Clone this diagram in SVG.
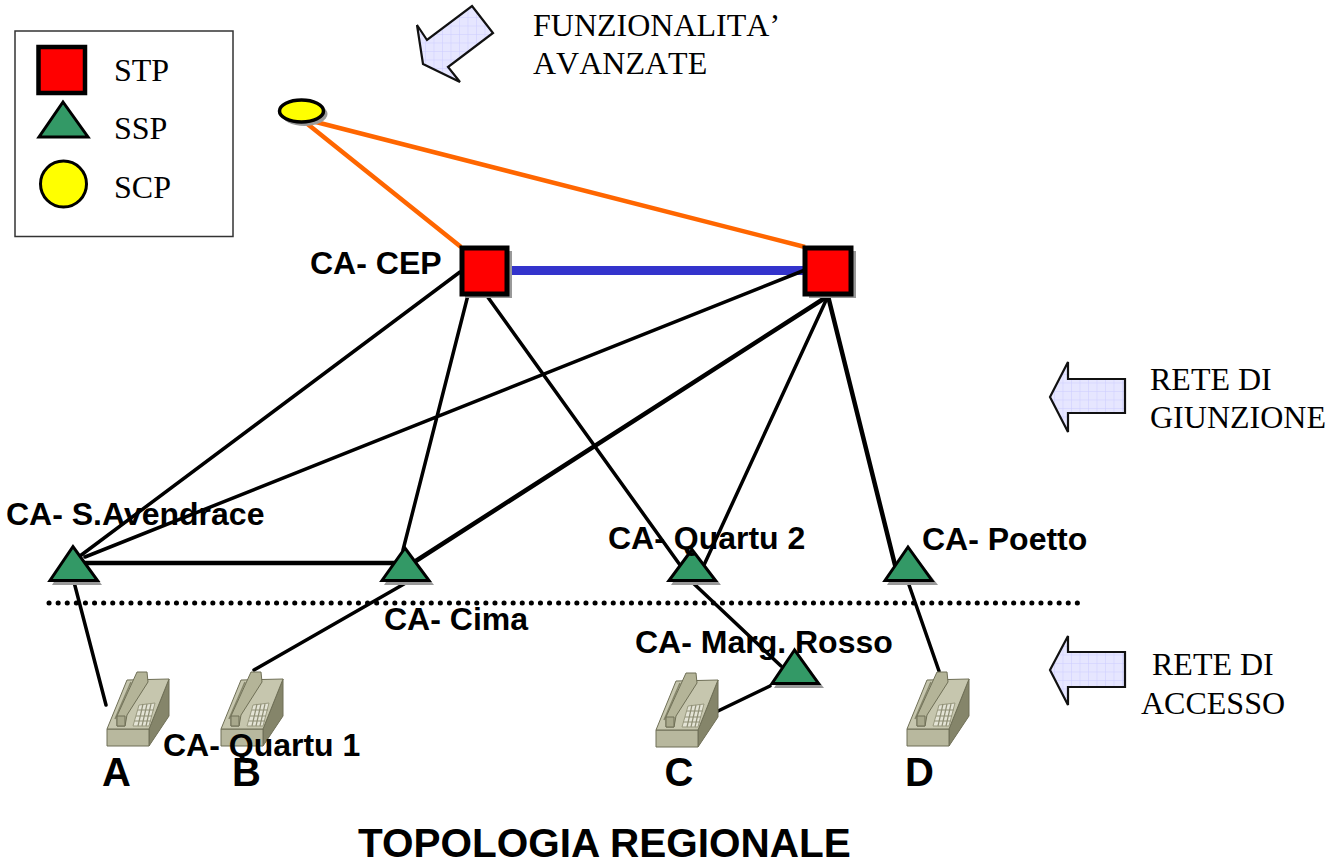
<svg xmlns="http://www.w3.org/2000/svg" width="1331" height="862" viewBox="0 0 1331 862">
<style>
.s{font-family:"Liberation Serif",serif;font-size:32px;font-kerning:none;fill:#000}
.l{font-family:"Liberation Sans",Arial,sans-serif;font-size:32px;font-weight:bold;fill:#000}
.L{font-family:"Liberation Sans",Arial,sans-serif;font-size:40px;font-weight:bold;fill:#000}
.c{fill:none;stroke:#000;stroke-width:3.5;stroke-linecap:round}
.h{fill:none;stroke:#000;stroke-width:4.500;stroke-linecap:round}
.t{fill:#339966;stroke:#000;stroke-width:3;stroke-linejoin:miter}
.ts{fill:#999;stroke:none}
.r{fill:#f00;stroke:#000;stroke-width:5}
.a{fill:url(#g);stroke:#111;stroke-width:2.2;stroke-linejoin:miter}
</style>
<defs>
<pattern id="g" width="8.5" height="8.5" patternUnits="userSpaceOnUse">
<rect width="8.5" height="8.5" fill="#e6e6ff"/>
<path d="M0 0H8.500M0 0V8.500" stroke="#ccccff" stroke-width="1"/>
</pattern>
<symbol id="phone" width="64" height="76" viewBox="0 0 64 76" overflow="visible">
<path d="M42 58L62 8V45L42 75Z" fill="#85856a" stroke="#6f6f56" stroke-width="1"/>
<path d="M0 58H42V75H0Z" fill="#b8b89e" stroke="#6f6f56" stroke-width="1"/>
<path d="M0 58L20 9L62 8L42 58Z" fill="#c6c6ae" stroke="#6f6f56" stroke-width="1"/>
<path d="M8 48L24 11" fill="none" stroke="#85856a" stroke-width="1.500"/>
<path d="M10 45L30 1H40L41 11L20 44L18 55H10Z" fill="#b4b498" stroke="#6f6f56" stroke-width="1"/>
<path d="M10 45H18V55H10Z" fill="#a8a88c" stroke="#6f6f56" stroke-width="1"/>
<path d="M26 55L32 34L48 32L42 55Z" fill="#e4e4d6" stroke="#9a9a80" stroke-width="1"/>
<path d="M31 39H47M29 45H45M27.500 50H44M36 33L31 55M40 33L35 55M44 33L39 55" stroke="#8f8f76" stroke-width="1.200" fill="none"/>
</symbol>
</defs>
<rect width="1331" height="862" fill="#fff"/>

<g id="legend">
<rect x="15" y="31" width="218" height="205.500" fill="#fff" stroke="#333" stroke-width="1.500"/>
<rect x="38.500" y="47" width="46.500" height="46" class="r" style="stroke-width:4.500"/>
<path d="M63 102L39 137H88Z" class="t"/>
<circle cx="63.500" cy="184" r="23" fill="#ff0" stroke="#000" stroke-width="3"/>
<text class="s" x="114" y="81">STP</text>
<text class="s" x="114" y="139">SSP</text>
<text class="s" x="114" y="198">SCP</text>
</g>

<g id="connectors">
<path d="M305 122L461 247M312 121L805 247" fill="none" stroke="#ff6600" stroke-width="4.500"/>
<path d="M508 270.500H805" fill="none" stroke="#3333cc" stroke-width="9"/>
<path class="c" d="M460 272L80 556M468 295L403 550M487 296L680 565M805 270L85 557M828 296L704 565"/>
<path class="h" d="M828 296L408 566M828 296L895 565M80 563H406"/>
<path class="c" d="M74 582L106 705M404 584L254 670M692 582L781 666M908 582L939 671M770 686L718 711"/>
<path d="M49 603H1079" fill="none" stroke="#000" stroke-width="5" stroke-linecap="round" stroke-dasharray="0.100 9"/>
</g>

<g id="scp"><ellipse cx="304.500" cy="114" rx="23" ry="12" fill="#999"/><ellipse cx="301.500" cy="111" rx="22" ry="11" fill="#ff0" stroke="#000" stroke-width="3.500"/></g>
<g id="stp-cep"><rect x="465" y="251" width="47" height="47" fill="#999"/><rect x="462" y="248" width="45" height="46" class="r"/></g>
<g id="stp-2"><rect x="809" y="251" width="47" height="47" fill="#999"/><rect x="805" y="248" width="46" height="46" class="r"/></g>

<g id="ssp-avendrace"><path d="M75 549L52 585H102Z" class="ts"/><path d="M73 546.500L50 580.500H97.500Z" class="t"/></g>
<g id="ssp-cima"><path d="M407 550L384 585H434Z" class="ts"/><path d="M405 548L382 580.500H429Z" class="t"/></g>
<g id="ssp-quartu2"><path d="M694 551L671 585H721Z" class="ts"/><path d="M692 549.500L669 580.500H715.500Z" class="t"/></g>
<g id="ssp-poetto"><path d="M910 549L887 585H938Z" class="ts"/><path d="M908 547L885 580.500H932Z" class="t"/></g>
<g id="ssp-rosso"><path d="M796 652L774 688H824Z" class="ts"/><path d="M794.500 650L772 683.500H818.500Z" class="t"/></g>

<g id="phone-a"><use href="#phone" x="107" y="671"/></g>
<g id="phone-b"><use href="#phone" x="221" y="671"/></g>
<g id="phone-c"><use href="#phone" x="656" y="672"/></g>
<g id="phone-d"><use href="#phone" x="907" y="671"/></g>

<g id="arrow-funzionalita"><path class="a" d="M472 6L493 33L448 67L460 82L423 64L417 25L427 40Z"/></g>
<g id="arrow-giunzione"><path class="a" d="M1068 362V379H1125V413H1068V432L1050 397Z"/></g>
<g id="arrow-accesso"><path class="a" d="M1068 636V652H1125V687H1068V705L1050 670Z"/></g>

<g id="labels">
<text class="s" x="533" y="36">FUNZIONALITA’</text>
<text class="s" x="533" y="74">AVANZATE</text>
<text class="s" x="1150" y="390">RETE DI</text>
<text class="s" x="1150" y="428">GIUNZIONE</text>
<text class="s" x="1152" y="675">RETE DI</text>
<text class="s" x="1141" y="714">ACCESSO</text>
<text class="l" x="310" y="274">CA- CEP</text>
<text class="l" x="6" y="525">CA- S.Avendrace</text>
<text class="l" x="608" y="549">CA- Quartu 2</text>
<text class="l" x="922" y="550">CA- Poetto</text>
<text class="l" x="384" y="630">CA- Cima</text>
<text class="l" x="635" y="653">CA- Marg. Rosso</text>
<text class="l" x="163" y="756">CA- Quartu 1</text>
<text class="L" x="102" y="786">A</text>
<text class="L" x="232" y="786">B</text>
<text class="L" x="664.500" y="786">C</text>
<text class="L" x="905" y="786">D</text>
<text class="L" x="358" y="857" style="font-size:40.500px">TOPOLOGIA REGIONALE</text>
</g>
</svg>
